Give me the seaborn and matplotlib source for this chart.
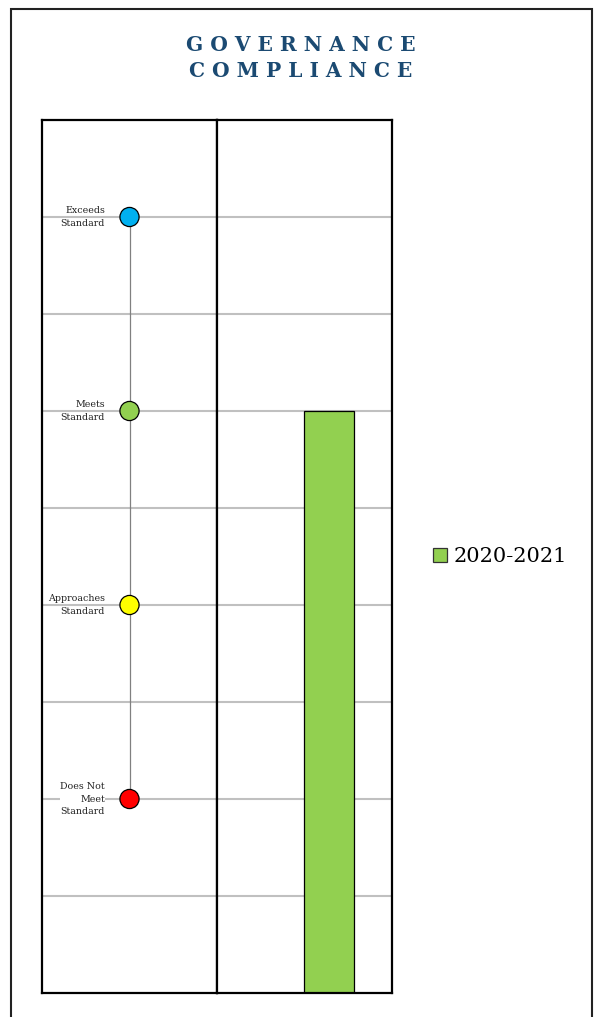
import matplotlib
matplotlib.use("Agg")
import matplotlib.pyplot as plt
import seaborn as sns
import pandas as pd
from matplotlib.patches import Rectangle

# ---- data ----
levels = ["Does Not\nMeet\nStandard", "Approaches\nStandard", "Meets\nStandard", "Exceeds\nStandard"]
level_values = [2, 4, 6, 8]
level_colors = ["#ff0000", "#ffff00", "#92d050", "#00b0f0"]
years = ["2020-2021"]
scores = [6]
bar_colors = ["#92d050"]
gridlines = [1, 2, 3, 4, 5, 6, 7, 8]

sns.set_theme(style="white")
plt.rcParams["font.family"] = ["DejaVu Serif"]

fig = plt.figure(figsize=(5.95, 10.17), dpi=100)
W, H = 595, 1017

def ax_rect(x0, x1, y0, y1):
    return [x0 / W, 1 - y1 / H, (x1 - x0) / W, (y1 - y0) / H]

axL = fig.add_axes(ax_rect(42, 217, 120, 993))
axR = fig.add_axes(ax_rect(217, 392, 120, 993), sharey=axL)

# outer border
fig.patches.append(Rectangle((11 / W, -0.05), (592 - 11) / W, 1.05 - 9 / H,
                             transform=fig.transFigure, fill=False,
                             edgecolor="#222222", linewidth=1.5, zorder=0))

for ax in (axL, axR):
    for g in gridlines:
        ax.axhline(g, color="#c0c0c0", linewidth=1.5, zorder=0)
    for s in ax.spines.values():
        s.set_color("black")
        s.set_linewidth(1.6)
        s.set_visible(True)
    ax.set_ylim(0, 9)
    ax.set_xticks([])
    ax.tick_params(left=False, labelleft=False)

# left column: scale
lev_df = pd.DataFrame({"x": [0.5] * len(level_values), "y": level_values, "label": levels})
axL.plot([0.5, 0.5], [min(level_values), max(level_values)], color="#808080", linewidth=0.9, zorder=1)
sns.scatterplot(data=lev_df, x="x", y="y", hue="label", palette=dict(zip(levels, level_colors)),
                s=190, edgecolor="black", linewidth=0.9, legend=False, zorder=3, ax=axL)
axL.set_xlim(0, 1)
for lab, v in zip(levels, level_values):
    kw = {}
    if lab.count("\n") >= 2:
        kw["bbox"] = dict(facecolor="white", edgecolor="none", pad=0.3)
    axL.text(0.36, v, lab, ha="right", va="center", fontsize=6.8, color="#222222",
             linespacing=1.45, zorder=2, **kw)
axL.set_xlabel("")
axL.set_ylabel("")

# right column: bar
bar_df = pd.DataFrame({"year": years, "score": scores})
sns.barplot(data=bar_df, x="year", y="score", hue="year", palette=dict(zip(years, bar_colors)),
            width=0.8, saturation=1, edgecolor="black", linewidth=0.9, legend=True, ax=axR, zorder=2)
axR.set_xlim(-0.4 - 1.392, -0.4 - 1.392 + 2.8)
axR.set_xticks([])
axR.set_xlabel("")
axR.set_ylabel("")
axR.tick_params(left=False, labelleft=False)

leg = axR.legend(loc="center left", bbox_to_anchor=(423 / W, 1 - 557 / H),
                 bbox_transform=fig.transFigure, frameon=False, fontsize=15,
                 handlelength=0.65, handleheight=0.65, handletextpad=0.3, borderpad=0)
for h in leg.legend_handles:
    h.set_edgecolor("#333333")
    h.set_linewidth(0.9)
for t in leg.get_texts():
    t.set_color("black")

# title
fig.text(0.505, 1 - 58 / H, "G O V E R N A N C E\nC O M P L I A N C E",
         ha="center", va="center", fontsize=14.5, fontweight="bold", color="#1b4a72",
         linespacing=1.35)

fig.savefig("out.png", dpi=100, facecolor="white")
